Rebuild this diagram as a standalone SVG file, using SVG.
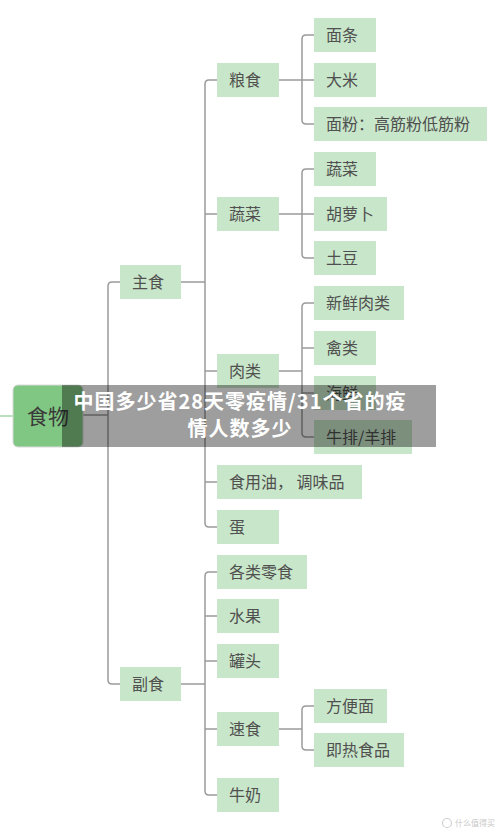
<svg xmlns="http://www.w3.org/2000/svg" width="500" height="833" viewBox="0 0 500 833">
<style>
.n rect{fill:#c8e6c9}
.n text{font-family:"Noto Sans CJK SC","Noto Sans",sans-serif;font-size:16px;fill:#505050}
.c path{fill:none;stroke:#9a9a9a;stroke-width:1.5}
.ov text{font-family:"Noto Sans CJK SC","Noto Sans",sans-serif;font-size:20px;font-weight:bold;fill:#fff;text-anchor:middle;letter-spacing:1px}
</style>
<rect width="500" height="833" fill="#fff"/>
<g class="c" id="connectors">
<path d="M0,416 H13" style="stroke:#a5d6a7"/>
<path d="M83,415 H108"/>
<path d="M120,282 H112 Q108,282 108,286 V680 Q108,684 112,684 H120"/>
<path d="M181,282 H205"/>
<path d="M217,80 H209 Q205,80 205,84 V523 Q205,527 209,527 H217"/>
<path d="M205,214 H217 M205,371 H217 M205,482 H217"/>
<path d="M181,684 H205"/>
<path d="M217,572 H209 Q205,572 205,576 V791 Q205,795 209,795 H217"/>
<path d="M205,616 H217 M205,661 H217 M205,729 H217"/>
<path d="M279,80 H314"/>
<path d="M314,35 H306 Q302,35 302,39 V120 Q302,124 306,124 H314"/>
<path d="M279,214 H314"/>
<path d="M314,169 H306 Q302,169 302,173 V254 Q302,258 306,258 H314"/>
<path d="M279,371 H302"/>
<path d="M314,303 H306 Q302,303 302,307 V433 Q302,437 306,437 H314"/>
<path d="M302,348 H314 M302,393 H314"/>
<path d="M279,729 H302"/>
<path d="M314,706 H306 Q302,706 302,710 V746 Q302,750 306,750 H314"/>
</g>
<g id="root">
<rect x="13" y="385" width="70" height="62" rx="5" fill="#81c784" stroke="#d8d8d8" stroke-width="1"/>
<text x="48" y="424" font-family="Noto Sans CJK SC,Noto Sans,sans-serif" font-size="21" fill="#3a3a3a" text-anchor="middle">食物</text>
</g>
<g class="n" id="zhushi"><rect x="120" y="265" width="61" height="34"/><text x="132" y="288">主食</text></g>
<g class="n" id="fushi"><rect x="120" y="667" width="61" height="34"/><text x="132" y="690">副食</text></g>
<g class="n" id="liangshi"><rect x="217" y="63" width="62" height="34"/><text x="229" y="86">粮食</text></g>
<g class="n" id="shucai"><rect x="217" y="197" width="62" height="34"/><text x="229" y="220">蔬菜</text></g>
<g class="n" id="roulei"><rect x="217" y="354" width="62" height="34"/><text x="229" y="377">肉类</text></g>
<g class="n" id="youliao"><rect x="217" y="465" width="145" height="34"/><text x="229" y="488">食用油， 调味品</text></g>
<g class="n" id="dan"><rect x="217" y="510" width="62" height="34"/><text x="229" y="533">蛋</text></g>
<g class="n" id="lingshi"><rect x="217" y="555" width="90" height="34"/><text x="229" y="578">各类零食</text></g>
<g class="n" id="shuiguo"><rect x="217" y="599" width="62" height="34"/><text x="229" y="622">水果</text></g>
<g class="n" id="guantou"><rect x="217" y="644" width="62" height="34"/><text x="229" y="667">罐头</text></g>
<g class="n" id="sushi"><rect x="217" y="712" width="62" height="34"/><text x="229" y="735">速食</text></g>
<g class="n" id="niunai"><rect x="217" y="778" width="62" height="34"/><text x="229" y="801">牛奶</text></g>
<g class="n" id="miantiao"><rect x="314" y="18" width="62" height="34"/><text x="326" y="41">面条</text></g>
<g class="n" id="dami"><rect x="314" y="63" width="62" height="34"/><text x="326" y="86">大米</text></g>
<g class="n" id="mianfen"><rect x="314" y="107" width="173" height="34"/><text x="326" y="130">面粉：高筋粉低筋粉</text></g>
<g class="n" id="shucai2"><rect x="314" y="152" width="62" height="34"/><text x="326" y="175">蔬菜</text></g>
<g class="n" id="huluobo"><rect x="314" y="197" width="73" height="34"/><text x="326" y="220">胡萝卜</text></g>
<g class="n" id="tudou"><rect x="314" y="241" width="62" height="34"/><text x="326" y="264">土豆</text></g>
<g class="n" id="xianrou"><rect x="314" y="286" width="90" height="34"/><text x="326" y="309">新鲜肉类</text></g>
<g class="n" id="qinlei"><rect x="314" y="331" width="62" height="34"/><text x="326" y="354">禽类</text></g>
<g class="n" id="haixian"><rect x="314" y="376" width="62" height="34"/><text x="326" y="399">海鲜</text></g>
<g class="n" id="niupai"><rect x="314" y="420" width="98" height="34"/><text x="326" y="443">牛排/羊排</text></g>
<g class="n" id="fangbianmian"><rect x="314" y="689" width="73" height="34"/><text x="326" y="712">方便面</text></g>
<g class="n" id="jire"><rect x="314" y="733" width="90" height="34"/><text x="326" y="756">即热食品</text></g>
<g class="ov" id="banner">
<rect x="62" y="385" width="374" height="62" fill="#000" opacity="0.38"/>
<text x="240" y="409">中国多少省28天零疫情/31个省的疫</text>
<text x="240" y="436">情人数多少</text>
</g>
<g id="watermark">
<circle cx="447" cy="823" r="4.5" fill="none" stroke="#d0d0d0" stroke-width="1.2"/>
<text x="455" y="826" font-family="Noto Sans CJK SC,Noto Sans,sans-serif" font-size="8" fill="#c8c8c8">什么值得买</text>
</g>
</svg>
